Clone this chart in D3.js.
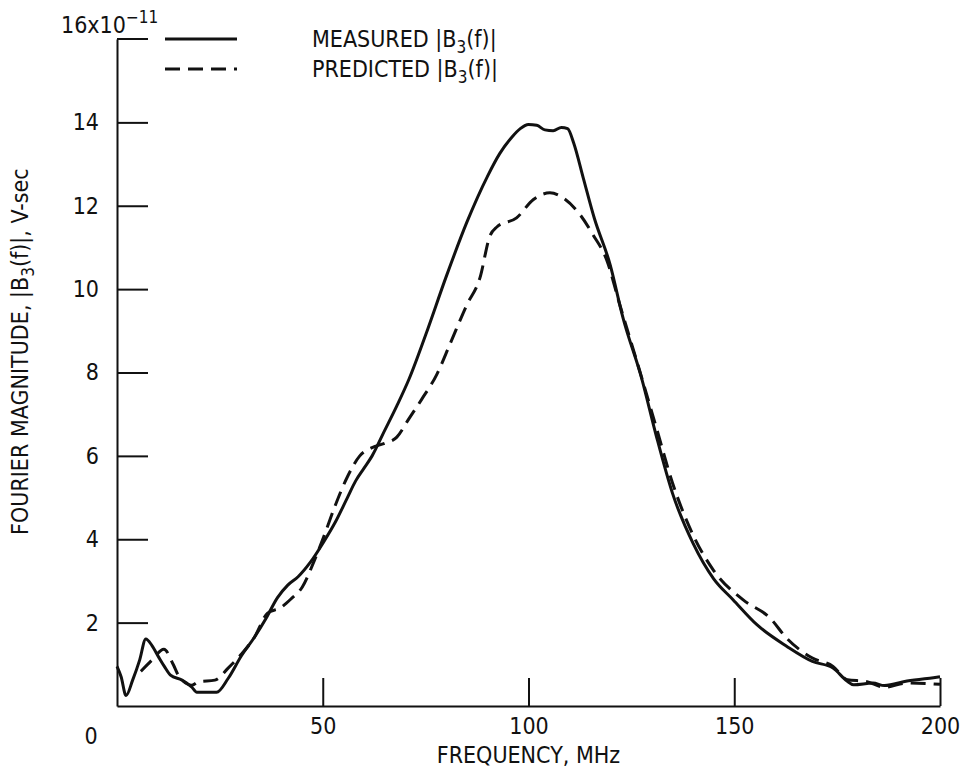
<!DOCTYPE html>
<html>
<head>
<meta charset="utf-8">
<script src="https://cdn.jsdelivr.net/npm/d3@7"></script>
<style>
    body { margin: 0; background: #fff; }
    svg text { font-family: "Liberation Sans Narrow", "DejaVu Sans Condensed", "Roboto Condensed", sans-serif; font-stretch: condensed; fill: #111; }
</style>
</head>
<body>
<div id="chart"></div>
<script>
// frequency (MHz) and magnitude (x1e-11 V-sec)
const measuredFreq = [0, 1, 2.2, 3.8, 5.5, 7, 8.5, 10.2, 11.5, 13, 15.8, 18.2, 19.4, 24.2, 27, 30.2, 33.4, 36.2, 39, 41.5, 44, 47, 50, 53, 56, 58, 60, 62, 65, 68, 71, 75, 80, 85, 90, 93, 96, 98, 100, 102, 104, 106, 108, 109.5, 111, 113.3, 116, 119.8, 123, 127.5, 131, 135, 140, 145, 149.7, 155.5, 162.8, 169, 174, 177.4, 179, 183.7, 186.5, 192, 198.4, 200];
const measuredValue = [0.95, 0.7, 0.25, 0.62, 1.1, 1.61, 1.45, 1.16, 0.95, 0.74, 0.62, 0.45, 0.33, 0.33, 0.66, 1.2, 1.65, 2.1, 2.6, 2.9, 3.1, 3.45, 3.9, 4.4, 5.0, 5.4, 5.7, 6.0, 6.6, 7.2, 7.85, 8.9, 10.3, 11.6, 12.7, 13.25, 13.65, 13.85, 13.95, 13.93, 13.82, 13.8, 13.88, 13.85, 13.5, 12.67, 11.7, 10.6, 9.3, 7.86, 6.5, 5.1, 3.9, 3.05, 2.55, 1.95, 1.43, 1.07, 0.91, 0.6, 0.51, 0.55, 0.49, 0.6, 0.68, 0.7];

const predictedFreq = [5.8, 8.5, 11.4, 13.7, 14.9, 18.2, 19.8, 23.8, 27, 30.2, 33.4, 36.6, 39.8, 42.2, 45, 48, 50, 53, 56, 59, 62, 65, 68, 71, 74, 77.7, 81, 85, 88.2, 90.6, 92.3, 97.1, 101.2, 105.2, 108.4, 112.5, 115.7, 119, 122.2, 126.6, 131, 135, 140, 145, 152.1, 158.7, 162.7, 169, 174, 177.5, 182, 186.5, 192, 198.4, 200];
const predictedValue = [0.83, 1.1, 1.36, 0.99, 0.74, 0.5, 0.58, 0.62, 0.91, 1.24, 1.65, 2.23, 2.36, 2.56, 2.85, 3.5, 4.0, 4.8, 5.5, 6.0, 6.2, 6.3, 6.45, 6.9, 7.35, 7.95, 8.7, 9.62, 10.27, 11.27, 11.49, 11.71, 12.15, 12.31, 12.19, 11.79, 11.3, 10.7, 9.62, 8.18, 6.7, 5.35, 4.1, 3.25, 2.55, 2.11, 1.63, 1.15, 0.95, 0.63, 0.59, 0.45, 0.55, 0.53, 0.52];

const xTicks = [50, 100, 150, 200];
const yTicks = [2, 4, 6, 8, 10, 12, 14];

const width = 961, height = 781;
const margin = { left: 117, right: 21, top: 39, bottom: 75 };

const svg = d3.select("#chart").append("svg")
    .attr("width", width)
    .attr("height", height);

const x = d3.scaleLinear().domain([0, 200]).range([margin.left, width - margin.right]);
const y = d3.scaleLinear().domain([0, 16]).range([height - margin.bottom, margin.top]);

// x axis, ticks pointing up into the plot
svg.append("g")
    .attr("transform", `translate(0,${y(0)})`)
    .call(d3.axisBottom(x).tickValues(xTicks).tickSizeInner(-28).tickSizeOuter(0).tickPadding(12))
    .call(g => g.selectAll("text").attr("font-size", 23).attr("font-family", null))
    .call(g => g.selectAll("line, path").attr("stroke", "#111").attr("stroke-width", 2));

// y axis, ticks pointing right
svg.append("g")
    .attr("transform", `translate(${x(0)},0)`)
    .call(d3.axisLeft(y).tickValues(yTicks).tickSizeInner(-31).tickSizeOuter(0).tickPadding(18))
    .call(g => g.selectAll("text").attr("font-size", 23).attr("font-family", null))
    .call(g => g.selectAll("line, path").attr("stroke", "#111").attr("stroke-width", 2));

// top tick at 16
svg.append("line")
    .attr("x1", x(0)).attr("x2", x(0) + 31)
    .attr("y1", y(16)).attr("y2", y(16))
    .attr("stroke", "#111").attr("stroke-width", 2);

// origin label
svg.append("text")
    .attr("x", x(0) - 26).attr("y", y(0) + 22)
    .attr("dy", "0.71em")
    .attr("text-anchor", "middle")
    .attr("font-size", 23)
    .text("0");

// scale factor label
const scaleLabel = svg.append("text")
    .attr("x", x(0) - 56).attr("y", y(16) - 6)
    .attr("font-size", 23);
scaleLabel.append("tspan").text("16x10");
scaleLabel.append("tspan").attr("dy", -10).attr("font-size", 17).text("\u2212" + "11");

// axis titles
svg.append("text")
    .attr("x", x(100)).attr("y", height - 18)
    .attr("text-anchor", "middle")
    .attr("font-size", 23)
    .text("FREQUENCY,  MHz");

const yTitle = svg.append("text")
    .attr("transform", `translate(28,${y(8.5)}) rotate(-90)`)
    .attr("text-anchor", "middle")
    .attr("font-size", 23);
yTitle.append("tspan").text("FOURIER MAGNITUDE,  |B");
yTitle.append("tspan").attr("dy", 6).attr("font-size", 17).text("3");
yTitle.append("tspan").attr("dy", -6).text("(f)|,  V-sec");

// curves
const line = d3.line()
    .x(d => x(d[0]))
    .y(d => y(d[1]))
    .curve(d3.curveMonotoneX);

svg.append("path")
    .datum(d3.zip(measuredFreq, measuredValue))
    .attr("fill", "none")
    .attr("stroke", "#111")
    .attr("stroke-width", 3)
    .attr("d", line);

svg.append("path")
    .datum(d3.zip(predictedFreq, predictedValue))
    .attr("fill", "none")
    .attr("stroke", "#111")
    .attr("stroke-width", 3)
    .attr("stroke-dasharray", "15,8")
    .attr("d", line);

// legend
const legendItems = [
    { label: "MEASURED |B", dash: null },
    { label: "PREDICTED |B", dash: "15,8" }
];

legendItems.forEach((item, i) => {
    const ly = y(16) + i * 30;
    svg.append("line")
        .attr("x1", 165).attr("x2", 237)
        .attr("y1", ly).attr("y2", ly)
        .attr("stroke", "#111").attr("stroke-width", 3)
        .attr("stroke-dasharray", item.dash);
    const t = svg.append("text")
        .attr("x", 312).attr("y", ly)
        .attr("dy", "0.35em")
        .attr("font-size", 23);
    t.append("tspan").text(item.label);
    t.append("tspan").attr("dy", 6).attr("font-size", 17).text("3");
    t.append("tspan").attr("dy", -6).text("(f)|");
});
</script>
</body>
</html>
